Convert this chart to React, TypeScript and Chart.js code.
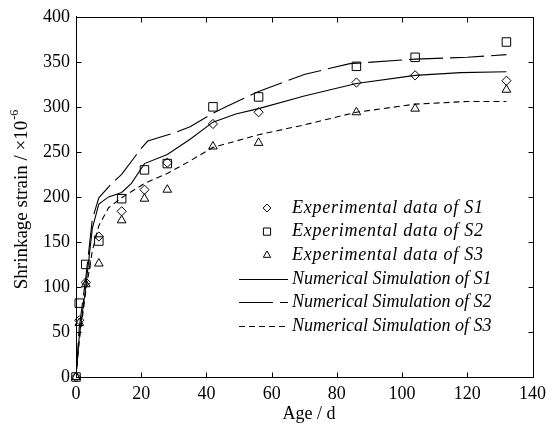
import React, { useEffect, useRef } from 'react';
import { Chart, registerables } from 'chart.js';

Chart.register(...registerables);

// ---- data ----
const expAges = [0, 1, 3, 7, 14, 21, 28, 42, 56, 86, 104, 132];
const expS1 = [0, 63, 105, 156, 184, 208, 238, 281, 294, 327, 335, 329];
const expS2 = [0, 82, 125, 151, 198, 230, 237, 300, 311, 345, 355, 372];
const expS3 = [0, 60, 103, 126, 174, 198, 208, 256, 260, 294, 298, 319];

const simS1Ages = [0, 1, 3, 5, 7, 10, 14, 17, 21, 28, 35, 42, 49, 56, 70, 86, 104, 118, 132];
const simS1 = [0, 45, 100, 165, 192, 200, 205, 215, 237, 247, 264, 283, 292, 298, 312, 326, 335, 338, 339];
const simS2Ages = [0, 1, 3, 5, 7, 11, 14, 20, 22, 30, 35, 42, 46, 56, 70, 84, 104, 120, 132];
const simS2 = [0, 55, 110, 175, 199, 215, 225, 254, 262, 271, 278, 293, 300, 317, 336, 348, 353, 355, 358];
const simS3Ages = [0, 1, 3, 5, 7, 10, 14, 21, 28, 35, 42, 56, 70, 86, 104, 120, 132];
const simS3 = [0, 40, 95, 140, 168, 188, 199, 215, 226, 240, 255, 269, 280, 294, 303, 306, 306];

const xTickValues = [0, 20, 40, 60, 80, 100, 120, 140];
const yTickValues = [0, 50, 100, 150, 200, 250, 300, 350, 400];

const seriesLabels = [
  'Experimental data of S1',
  'Experimental data of S2',
  'Experimental data of S3',
  'Numerical Simulation of S1',
  'Numerical Simulation of S2',
  'Numerical Simulation of S3',
];

const xTitle = 'Age / d';
const yTitle = 'Shrinkage strain / \u00d710';
const yTitleSup = '-6';

const SERIF = "'Times New Roman', 'Liberation Serif', serif";

const toPts = (xs: number[], ys: number[]) => xs.map((x, i) => ({ x, y: ys[i] }));

const decorPlugin = {
  id: 'decor',
  afterDraw(chart: any) {
    const { ctx, chartArea: a, scales } = chart;
    const xs = scales.x;
    const ys = scales.y;
    const r = (v: number) => Math.round(v) + 0.5;
    ctx.save();
    ctx.strokeStyle = '#000';
    ctx.lineWidth = 1;
    ctx.setLineDash([]);
    ctx.beginPath();
    ctx.rect(r(a.left), r(a.top), Math.round(a.right) - Math.round(a.left), Math.round(a.bottom) - Math.round(a.top));
    const tl = 5;
    xTickValues.forEach((v) => {
      const px = r(xs.getPixelForValue(v));
      ctx.moveTo(px, r(a.bottom));
      ctx.lineTo(px, r(a.bottom) - tl);
      ctx.moveTo(px, r(a.top));
      ctx.lineTo(px, r(a.top) + tl);
    });
    yTickValues.forEach((v) => {
      const py = r(ys.getPixelForValue(v));
      ctx.moveTo(r(a.left), py);
      ctx.lineTo(r(a.left) + tl, py);
      ctx.moveTo(r(a.right), py);
      ctx.lineTo(r(a.right) - tl, py);
    });
    ctx.stroke();

    // legend
    const rowY0 = 208;
    const rowH = 23.6;
    const markX = 267;
    const lineX0 = 239;
    const lineX1 = 288;
    const textX = 292;
    ctx.fillStyle = '#000';
    ctx.textBaseline = 'middle';
    ctx.textAlign = 'left';
    ctx.font = `italic 18px ${SERIF}`;
    chart.data.datasets.forEach((ds: any, i: number) => {
      const y = rowY0 + i * rowH;
      ctx.beginPath();
      ctx.lineWidth = 1;
      ctx.strokeStyle = '#000';
      if (ds.showLine) {
        ctx.setLineDash(ds.borderDash || []);
        ctx.moveTo(lineX0, Math.round(y) + 0.5);
        ctx.lineTo(lineX1, Math.round(y) + 0.5);
        ctx.stroke();
        ctx.setLineDash([]);
      } else {
        const st = ds.pointStyle;
        const rad = ds.pointRadius * 0.85;
        if (st === 'rectRot') {
          ctx.moveTo(markX, y - rad);
          ctx.lineTo(markX + rad, y);
          ctx.lineTo(markX, y + rad);
          ctx.lineTo(markX - rad, y);
          ctx.closePath();
        } else if (st === 'rect') {
          const s = rad * Math.SQRT1_2;
          ctx.rect(markX - s, y - s, 2 * s, 2 * s);
        } else {
          const h = rad;
          ctx.moveTo(markX, y - h);
          ctx.lineTo(markX + h * Math.sin(Math.PI / 3), y + h / 2);
          ctx.lineTo(markX - h * Math.sin(Math.PI / 3), y + h / 2);
          ctx.closePath();
        }
        ctx.stroke();
      }
      (ctx as any).letterSpacing = ds.showLine ? '0px' : '0.75px';
      ctx.fillText(seriesLabels[i], textX, y);
      (ctx as any).letterSpacing = '0px';
    });

    // x title
    ctx.font = `18px ${SERIF}`;
    ctx.textAlign = 'center';
    ctx.fillText(xTitle, 309, 414);

    // y title with superscript
    ctx.translate(22, 200);
    ctx.rotate(-Math.PI / 2);
    ctx.font = `19px ${SERIF}`;
    const w1 = ctx.measureText(yTitle).width;
    ctx.font = `12px ${SERIF}`;
    const w2 = ctx.measureText(yTitleSup).width;
    const start = -(w1 + w2) / 2;
    ctx.textAlign = 'left';
    ctx.font = `19px ${SERIF}`;
    ctx.fillText(yTitle, start, 0);
    ctx.font = `12px ${SERIF}`;
    ctx.fillText(yTitleSup, start + w1 + 1, -7);
    ctx.restore();
  },
};

export default function App() {
  const ref = useRef<HTMLCanvasElement | null>(null);

  useEffect(() => {
    if (!ref.current) return;
    const chart = new Chart(ref.current, {
      type: 'scatter',
      data: {
        datasets: [
          {
            label: seriesLabels[0],
            data: toPts(expAges, expS1),
            showLine: false,
            pointStyle: 'rectRot',
            pointRadius: 4.6,
            borderColor: '#000',
            backgroundColor: 'rgba(0,0,0,0)',
            borderWidth: 1,
            clip: false,
          },
          {
            label: seriesLabels[1],
            data: toPts(expAges, expS2),
            showLine: false,
            pointStyle: 'rect',
            pointRadius: 6,
            borderColor: '#000',
            backgroundColor: 'rgba(0,0,0,0)',
            borderWidth: 1,
            clip: false,
          },
          {
            label: seriesLabels[2],
            data: toPts(expAges, expS3),
            showLine: false,
            pointStyle: 'triangle',
            pointRadius: 5,
            borderColor: '#000',
            backgroundColor: 'rgba(0,0,0,0)',
            borderWidth: 1,
            clip: false,
          },
          {
            label: seriesLabels[3],
            data: toPts(simS1Ages, simS1),
            showLine: true,
            pointRadius: 0,
            borderColor: '#000',
            borderWidth: 1.1,
            borderDash: [],
            tension: 0,
          },
          {
            label: seriesLabels[4],
            data: toPts(simS2Ages, simS2),
            showLine: true,
            pointRadius: 0,
            borderColor: '#000',
            borderWidth: 1.1,
            borderDash: [34, 7],
            tension: 0,
          },
          {
            label: seriesLabels[5],
            data: toPts(simS3Ages, simS3),
            showLine: true,
            pointRadius: 0,
            borderColor: '#000',
            borderWidth: 1.1,
            borderDash: [6, 4],
            tension: 0,
          },
        ],
      },
      options: {
        animation: false,
        responsive: false,
        devicePixelRatio: 1,
        layout: { padding: { top: 15, right: 16, left: 0, bottom: 0 } },
        plugins: {
          legend: { display: false },
          tooltip: { enabled: false },
        },
        scales: {
          x: {
            type: 'linear',
            min: 0,
            max: 140,
            grid: { display: false, drawTicks: false },
            border: { display: true, color: '#000', width: 1 },
            ticks: {
              stepSize: 20,
              color: '#000',
              font: { family: SERIF, size: 18 },
              padding: 6,
              maxRotation: 0,
            },
            afterFit: (s: any) => {
              s.height = 49;
            },
          },
          y: {
            type: 'linear',
            min: 0,
            max: 400,
            grid: { display: false, drawTicks: false },
            border: { display: true, color: '#000', width: 1 },
            ticks: {
              stepSize: 50,
              color: '#000',
              font: { family: SERIF, size: 18 },
              padding: 6,
            },
            afterFit: (s: any) => {
              s.width = 76;
            },
          },
        },
      },
      plugins: [decorPlugin],
    });
    return () => chart.destroy();
  }, []);

  return (
    <div style={{ position: 'absolute', left: 0, top: 0, width: 552, height: 426, background: '#fff' }}>
      <canvas ref={ref} width={552} height={426} style={{ display: 'block' }} />
    </div>
  );
}
